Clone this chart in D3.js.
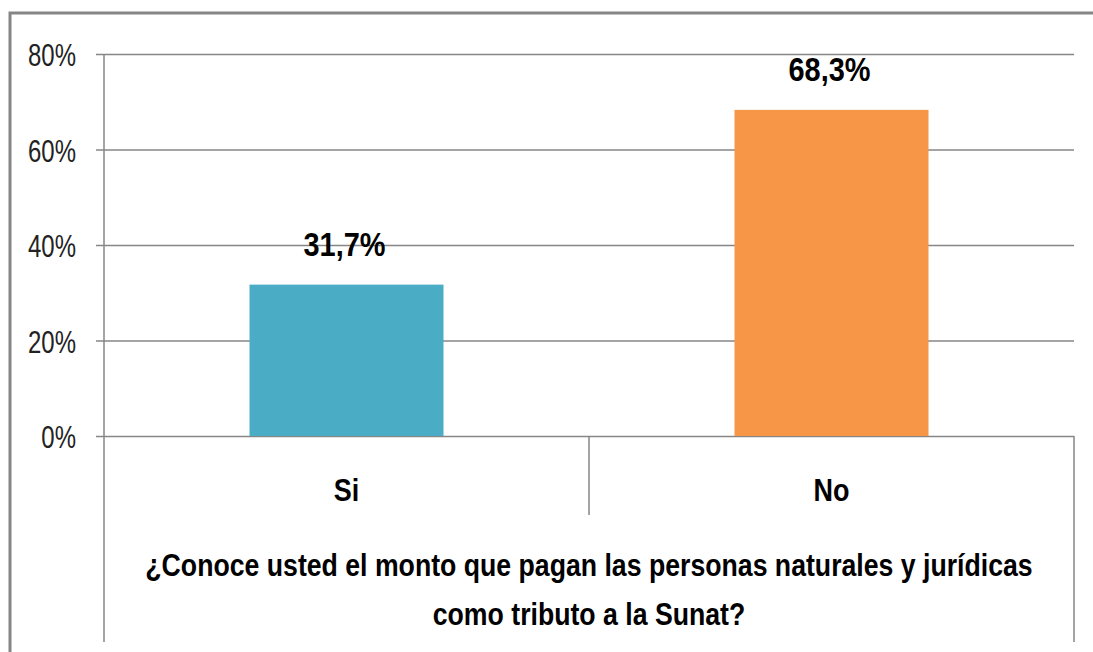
<!DOCTYPE html>
<html>
<head>
<meta charset="utf-8">
<script src="https://cdn.jsdelivr.net/npm/d3@7"></script>
<style>
  body { margin: 0; background: #fff; }
  svg { display: block; }
  text { font-family: "Liberation Sans", Arial, sans-serif; }
</style>
</head>
<body>
<svg></svg>
<script>
// answers to the question
const categories = ['Si', 'No'];
const percents = [31.7, 68.3];
const barColors = ['#4BACC6', '#F79646'];
const yTicks = [0, 20, 40, 60, 80];
const titleLines = ['¿Conoce usted el monto que pagan las personas naturales y jurídicas',
    'como tributo a la Sunat?'];

const width = 1093,
    height = 652;

const svg = d3.select('svg')
    .attr('width', width)
    .attr('height', height);

// plot area
const plotLeft = 104, plotRight = 1074, plotTop = 54, plotBottom = 436;

let x = d3.scaleBand()
    .domain(categories)
    .range([plotLeft, plotRight])
    .paddingInner(0)
    .paddingOuter(0);

let y = d3.scaleLinear()
    .domain([0, 80])
    .range([plotBottom, plotTop]);

// outer chart frame (only top + left visible)
svg.append('path')
    .attr('d', 'M10,' + height + 'V13H' + width)
    .attr('fill', 'none')
    .attr('stroke', '#868686')
    .attr('stroke-width', 3);

// gridlines + y axis
let yAxis = d3.axisLeft(y)
    .tickValues(yTicks)
    .tickSize(8)
    .tickFormat(d => d + '%');

let gy = svg.append('g')
    .attr('transform', 'translate(' + plotLeft + ',0)')
    .call(yAxis);

gy.select('.domain').remove();
gy.selectAll('.tick line')
    .attr('x2', -8)
    .attr('stroke', '#868686')
    .attr('stroke-width', 1.5);
gy.selectAll('.tick')
    .append('line')
    .attr('x1', 0)
    .attr('x2', plotRight - plotLeft)
    .attr('stroke', '#868686')
    .attr('stroke-width', 1.5);
let tickText = gy.selectAll('.tick text')
    .attr('x', 0)
    .attr('dy', '0.36em')
    .attr('fill', '#222')
    .attr('font-family', '"Liberation Sans", Arial, sans-serif')
    .style('font-size', '32px');

// y axis line runs down through the category area
svg.append('line')
    .attr('x1', plotLeft).attr('x2', plotLeft)
    .attr('y1', plotTop).attr('y2', 642)
    .attr('stroke', '#868686')
    .attr('stroke-width', 1.5);

// category dividers
svg.append('line')
    .attr('x1', x('No')).attr('x2', x('No'))
    .attr('y1', plotBottom).attr('y2', 515)
    .attr('stroke', '#868686')
    .attr('stroke-width', 1.5);
svg.append('line')
    .attr('x1', plotRight).attr('x2', plotRight)
    .attr('y1', plotBottom).attr('y2', 642)
    .attr('stroke', '#868686')
    .attr('stroke-width', 1.5);

// bars
const barW = x.bandwidth() * 0.4;

svg.append('g')
    .selectAll('rect')
    .data(categories)
    .enter()
    .append('rect')
    .attr('x', d => x(d) + (x.bandwidth() - barW) / 2)
    .attr('y', (d, i) => y(percents[i]))
    .attr('width', barW)
    .attr('height', (d, i) => plotBottom - y(percents[i]))
    .attr('fill', (d, i) => barColors[i]);

// value labels
let valueText = svg.append('g')
    .selectAll('text')
    .data(categories)
    .enter()
    .append('text')
    .attr('text-anchor', 'middle')
    .attr('font-weight', 'bold')
    .style('font-size', '34px')
    .text((d, i) => percents[i].toFixed(1).replace('.', ',') + '%');

// category labels
let catText = svg.append('g')
    .selectAll('text')
    .data(categories)
    .enter()
    .append('text')
    .attr('text-anchor', 'middle')
    .attr('font-weight', 'bold')
    .style('font-size', '32px')
    .text(d => d);

// axis title
let titleText = svg.append('g')
    .selectAll('text')
    .data(titleLines)
    .enter()
    .append('text')
    .attr('text-anchor', 'middle')
    .attr('font-weight', 'bold')
    .style('font-size', '32px')
    .text(d => d);

// the original font is a narrow one: squeeze each group horizontally so
// a reference text gets the width it has in the picture
function squeeze(sel, refIndex, refWidth, pos) {
    let k = refWidth / sel.nodes()[refIndex].getComputedTextLength();
    sel.attr('transform', (d, i) => {
        let p = pos(d, i);
        return 'translate(' + p[0] + ',' + p[1] + ') scale(' + k + ',1)';
    });
}

squeeze(tickText, 4, 48, () => [-28, 0]);
squeeze(valueText, 0, 82, (d, i) => [x(d) + x.bandwidth() / 2 - 2, y(percents[i]) - 29]);
squeeze(catText, 1, 36, d => [x(d) + x.bandwidth() / 2, 501]);
squeeze(titleText, 0, 888, (d, i) => [(plotLeft + plotRight) / 2, 576 + i * 49]);
</script>
</body>
</html>
